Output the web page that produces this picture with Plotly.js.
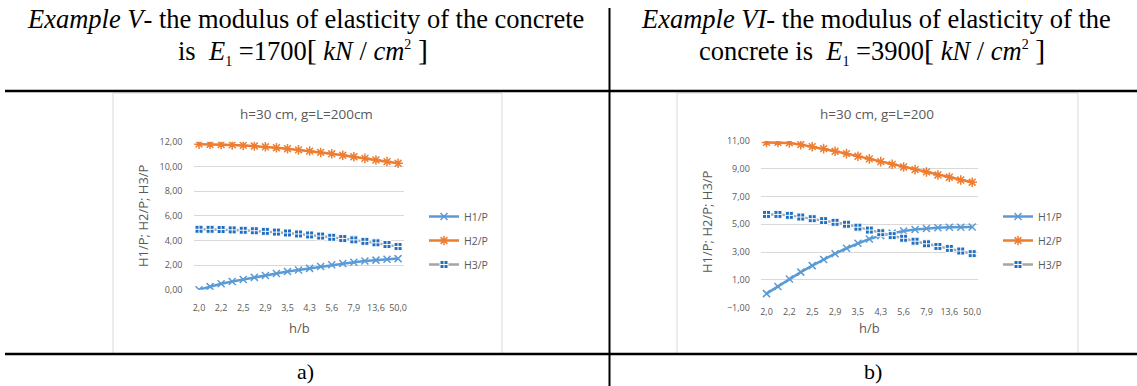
<!DOCTYPE html>
<html>
<head>
<meta charset="utf-8">
<script src="https://cdn.plot.ly/plotly-3.0.1.min.js"></script>
<style>
  html, body { margin: 0; padding: 0; background: #ffffff; }
  #chart { width: 1137px; height: 386px; }
</style>
</head>
<body>
<div id="chart"></div>
<script>
// h/b ratios: h = 30 cm, b from 15 cm down to 0.6 cm
const hbLabels = ["2,0", "2,1", "2,2", "2,4", "2,5", "2,7", "2,9", "3,2", "3,5", "3,8",
                  "4,3", "4,8", "5,6", "6,5", "7,9", "10,0", "13,6", "21,4", "50,0"];
const hbTickLabels = hbLabels.filter((_, i) => i % 2 === 0);

// Example V: E1 = 1700 kN/cm2, h = 30 cm, g = L = 200 cm
const h1P_V = [0.00, 0.25, 0.48, 0.66, 0.83, 1.00, 1.15, 1.31, 1.47, 1.60,
               1.73, 1.88, 2.02, 2.13, 2.23, 2.32, 2.40, 2.47, 2.52];
const h2P_V = [11.80, 11.79, 11.77, 11.74, 11.70, 11.65, 11.59, 11.51, 11.43, 11.34,
               11.24, 11.13, 11.02, 10.90, 10.78, 10.65, 10.52, 10.39, 10.25];
const h3P_V = [4.90, 4.90, 4.88, 4.85, 4.82, 4.78, 4.73, 4.67, 4.60, 4.52,
               4.44, 4.35, 4.25, 4.15, 4.04, 3.92, 3.80, 3.66, 3.50];

// Example VI: E1 = 3900 kN/cm2, h = 30 cm, g = L = 200
const h1P_VI = [0.00, 0.52, 1.05, 1.55, 2.02, 2.46, 2.88, 3.27, 3.63, 3.94,
                4.18, 4.36, 4.52, 4.62, 4.70, 4.75, 4.78, 4.79, 4.80];
const h2P_VI = [10.90, 10.90, 10.86, 10.74, 10.59, 10.45, 10.26, 10.09, 9.90, 9.71,
                9.51, 9.32, 9.13, 8.94, 8.77, 8.55, 8.39, 8.19, 8.03];
const h3P_VI = [5.71, 5.71, 5.64, 5.52, 5.40, 5.26, 5.14, 5.00, 4.79, 4.58,
                4.39, 4.18, 3.99, 3.78, 3.59, 3.40, 3.26, 3.07, 2.88];

const seriesNames = ["H1/P", "H2/P", "H3/P"];

// ---- page geometry (pixels -> paper fractions) ----
const W = 1137, H = 386;
const px = x => x / W;
const py = y => 1 - y / H;

const C_H1 = "#5B9BD5", C_H2 = "#ED7D31", C_H3 = "#A5A5A5", C_H3M = "#1F6FC3";
const GRID = "#D9D9D9", TXT = "#595959";
const UI_FONT = "Open Sans, Lato, sans-serif";
const SERIF = "Liberation Serif, Times New Roman, serif";

function seriesTraces(y1, y2, y3, xa, ya, legendId) {
  return [
    { x: hbLabels, y: y1, name: seriesNames[0], type: "scatter", mode: "lines+markers",
      xaxis: xa, yaxis: ya, legend: legendId, legendgroup: legendId + "1",
      line: { color: C_H1, width: 2.5 },
      marker: { symbol: "x-thin-open", size: 7, color: C_H1, line: { color: C_H1, width: 1.5 } } },
    { x: hbLabels, y: y2, name: seriesNames[1], type: "scatter", mode: "lines+markers",
      xaxis: xa, yaxis: ya, legend: legendId, legendgroup: legendId + "2",
      line: { color: C_H2, width: 2.5 },
      marker: { symbol: "asterisk-open", size: 8, color: C_H2, line: { color: C_H2, width: 1.5 } } },
    { x: hbLabels, y: y3, name: seriesNames[2], type: "scatter", mode: "lines+markers",
      xaxis: xa, yaxis: ya, legend: legendId, legendgroup: legendId + "3",
      line: { color: C_H3, width: 2.5 },
      marker: { symbol: "square-cross", size: 8, color: C_H3M, line: { color: "#ffffff", width: 1 } } }
  ];
}

const data = [
  ...seriesTraces(h1P_V, h2P_V, h3P_V, "x", "y", "legend"),
  ...seriesTraces(h1P_VI, h2P_VI, h3P_VI, "x2", "y2", "legend2")
];

// category axis placed freely at the pixel row yPos
function catAxis(x0, x1, yPos) {
  return {
    type: "category", domain: [px(x0), px(x1)], range: [-0.5, hbLabels.length - 0.5],
    anchor: "free", position: py(yPos), showgrid: false, zeroline: false, showline: false, ticks: "",
    tickmode: "array", tickvals: hbTickLabels, ticktext: hbTickLabels,
    tickfont: { family: UI_FONT, size: 9, color: TXT }, ticklabelstandoff: 10,
    fixedrange: true
  };
}
function valAxis(yTop, yBot, lo, hi, anchor) {
  return {
    domain: [py(yBot), py(yTop)], range: [lo, hi], anchor: anchor,
    tick0: lo, dtick: 2, tickformat: ".2f",
    showgrid: true, gridcolor: GRID, gridwidth: 1, zeroline: false, showline: false, ticks: "",
    tickfont: { family: UI_FONT, size: 9, color: TXT }, ticklabelstandoff: 10,
    fixedrange: true
  };
}

function ann(text, x, y, size, opts) {
  return Object.assign({
    text: text, x: px(x), y: py(y), xref: "paper", yref: "paper",
    showarrow: false, xanchor: "center", yanchor: "middle",
    font: { family: UI_FONT, size: size, color: TXT }
  }, opts || {});
}

const bigBr = s => "<span style='font-size:30px'>" + s + "</span>";
const smallTxt = s => "<span style='font-size:14px'>" + s + "</span>";
const serifFont = size => ({ family: SERIF, size: size, color: "#000000" });
const unitText = bigBr("[") + " <i>kN</i> / <i>cm</i><sup>" + smallTxt("2") + "</sup> " + bigBr("]");
const e1Text = "<i>E</i><sub>" + smallTxt("1") + "</sub> ";

const annotations = [
  // table header, left column
  ann("<i>Example V</i>- the modulus of elasticity of the concrete", 305, 19, 26.5, { font: serifFont(26.5) }),
  ann("is  " + e1Text + "=1700" + unitText, 303, 51, 26.5, { font: serifFont(26.5) }),
  // table header, right column
  ann("<i>Example VI</i>- the modulus of elasticity of the", 876, 19, 26.5, { font: serifFont(26.5) }),
  ann("concrete is  " + e1Text + "=3900" + unitText, 872, 51, 26.5, { font: serifFont(26.5) }),
  // captions
  ann("a)", 305, 371, 22, { font: serifFont(22) }),
  ann("b)", 873, 371, 22, { font: serifFont(22) }),
  // chart titles
  ann("h=30 cm, g=L=200cm", 306, 114, 13.5),
  ann("h=30 cm, g=L=200", 877, 114, 13.5),
  // axis titles
  ann("H1/P; H2/P; H3/P", 143, 216, 13, { textangle: -90 }),
  ann("H1/P; H2/P; H3/P", 707, 222, 13, { textangle: -90 }),
  ann("h/b", 299, 328, 13),
  ann("h/b", 869, 328, 13)
];

function rect(x0, y0, x1, y1, color, width) {
  return { type: "rect", xref: "paper", yref: "paper", x0: px(x0), x1: px(x1), y0: py(y1), y1: py(y0),
           line: { color: color, width: width }, fillcolor: "rgba(0,0,0,0)", layer: "below" };
}
function seg(x0, y0, x1, y1, width) {
  return { type: "line", xref: "paper", yref: "paper", x0: px(x0), x1: px(x1), y0: py(y0), y1: py(y1),
           line: { color: "#000000", width: width }, layer: "above" };
}

const shapes = [
  rect(113, 93, 502, 354, GRID, 1),
  rect(677, 93, 1078, 354, GRID, 1),
  seg(5, 91, W, 91, 2.5),
  seg(5, 354, W, 354, 2.5),
  seg(609.5, 8, 609.5, H, 2)
];

function legendAt(x, y) {
  return {
    x: px(x), y: py(y), xref: "paper", yref: "paper", xanchor: "left", yanchor: "top",
    font: { family: UI_FONT, size: 10.5, color: TXT }, bgcolor: "rgba(0,0,0,0)",
    borderwidth: 0, tracegroupgap: 5, itemclick: false, itemdoubleclick: false
  };
}

const layout = {
  width: W, height: H, margin: { l: 0, r: 0, t: 0, b: 0, pad: 0 },
  paper_bgcolor: "#ffffff", plot_bgcolor: "rgba(0,0,0,0)",
  separators: ", ",
  showlegend: true,
  font: { family: UI_FONT, color: TXT },
  xaxis: catAxis(193.5, 403.6, 291),
  yaxis: valAxis(141.7, 289.7, 0, 12, "x"),
  xaxis2: catAxis(760.8, 977.9, 295),
  yaxis2: valAxis(141, 307.5, -1, 11, "x2"),
  legend: legendAt(424, 202),
  legend2: legendAt(998, 202),
  annotations: annotations,
  shapes: shapes
};

Plotly.newPlot("chart", data, layout, { staticPlot: true, displayModeBar: false });
</script>
</body>
</html>
